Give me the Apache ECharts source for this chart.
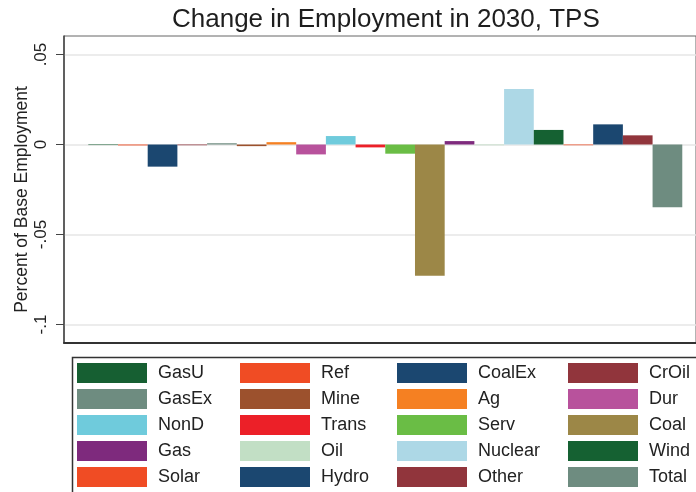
<!DOCTYPE html>
<html>
<head>
<meta charset="utf-8">
<script src="https://cdn.jsdelivr.net/npm/echarts@6/dist/echarts.min.js"></script>
<style>
html,body{margin:0;padding:0;background:#fff;}
#chart{width:696px;height:492px;}
</style>
</head>
<body>
<div id="chart"></div>
<script>
// ---- data ----
var titleText = 'Change in Employment in 2030, TPS';
var yAxisTitle = 'Percent of Base Employment';
var sectors = ['GasU','Ref','CoalEx','CrOil','GasEx','Mine','Ag','Dur','NonD','Trans',
               'Serv','Coal','Gas','Oil','Nuclear','Wind','Solar','Hydro','Other','Total'];
var changes = [-0.0003,-0.0005,-0.0123,-0.0004,0.0007,-0.0009,0.0013,-0.0055,0.0047,-0.0016,
               -0.0051,-0.0729,0.0019,-0.0004,0.0308,0.0081,-0.0004,0.0112,0.0051,-0.0349];
var colors = ['#165f32','#f04c24','#1b4770','#91353c','#6e8c80','#9c512d','#f58022','#b8529c','#6fcbdc','#ec2028',
              '#6abd45','#9c8747','#7e2a7d','#c2dfc5','#add8e6','#156132','#f04c24','#1b4770','#91353c','#6e8c80'];
var yTickValues = [-0.1, -0.05, 0, 0.05];
var yTickLabels = ['-.1', '-.05', '0', '.05'];
var yMin = -0.1103, yMax = 0.0603;
// bar slots along x: bar i occupies [i, i+1]; visible range of the plot in slot units
var xMin = -0.818, xMax = 20.462;

var FONT = 'Liberation Sans, Arial, Helvetica, sans-serif';

var series = sectors.map(function (name, i) {
  return {
    name: name,
    type: 'bar',
    data: [[i + 0.5, changes[i]]],
    itemStyle: { color: colors[i] },
    barWidth: 29.7,
    barGap: '-100%',
    animation: false
  };
});

// legend: 4 columns, row-major order
var colLefts = [77, 240, 397, 568];
var legends = colLefts.map(function (lx, c) {
  var names = [];
  for (var r = 0; r < 5; r++) names.push(sectors[r * 4 + c]);
  return {
    data: names,
    orient: 'vertical',
    left: lx,
    top: 363,
    padding: 0,
    itemWidth: 70,
    itemHeight: 20,
    itemGap: 6,
    icon: 'rect',
    selectedMode: false,
    textStyle: { fontFamily: FONT, fontSize: 18, color: '#222', padding: [0, 0, 0, 6] }
  };
});

var chart = echarts.init(document.getElementById('chart'), null, { renderer: 'canvas' });
chart.setOption({
  backgroundColor: '#fff',
  animation: false,
  title: {
    text: titleText,
    left: 172,
    top: 7,
    padding: 0,
    textStyle: { fontFamily: FONT, fontSize: 26, fontWeight: 'normal', color: '#1e1e1e' }
  },
  legend: legends,
  grid: {
    left: 64, top: 36, right: 0, bottom: 149,
    show: true, borderColor: '#666', borderWidth: 1, backgroundColor: '#fff'
  },
  xAxis: {
    type: 'value',
    min: xMin,
    max: xMax,
    axisLine: { show: true, onZero: false, lineStyle: { color: '#333', width: 2 } },
    axisTick: { show: false },
    axisLabel: { show: false },
    splitLine: { show: false }
  },
  yAxis: {
    type: 'value',
    min: yMin,
    max: yMax,
    name: yAxisTitle,
    nameLocation: 'middle',
    nameRotate: 90,
    nameGap: 33,
    nameMoveOverlap: false,
    nameTextStyle: { fontFamily: FONT, fontSize: 17.5, color: '#222', padding: [0, 20, 0, 0] },
    axisLine: { show: true, onZero: false, lineStyle: { color: '#444', width: 1.5 } },
    axisTick: { show: true, length: 8, customValues: yTickValues, lineStyle: { color: '#444', width: 1 } },
    axisLabel: {
      show: true,
      rotate: 90,
      margin: 14,
      customValues: yTickValues,
      fontFamily: FONT, fontSize: 17, color: '#222',
      formatter: function (v) {
        for (var i = 0; i < yTickValues.length; i++) {
          if (Math.abs(v - yTickValues[i]) < 1e-9) return yTickLabels[i];
        }
        return '';
      }
    },
    splitLine: { show: true, lineStyle: { color: '#e6e6e6', width: 1.5 } }
  },
  graphic: [{
    type: 'rect',
    left: 70, top: 355,
    shape: { width: 700, height: 200 },
    style: { fill: 'none', stroke: '#333', lineWidth: 1.5 },
    silent: true
  }],
  series: series
});
</script>
</body>
</html>
